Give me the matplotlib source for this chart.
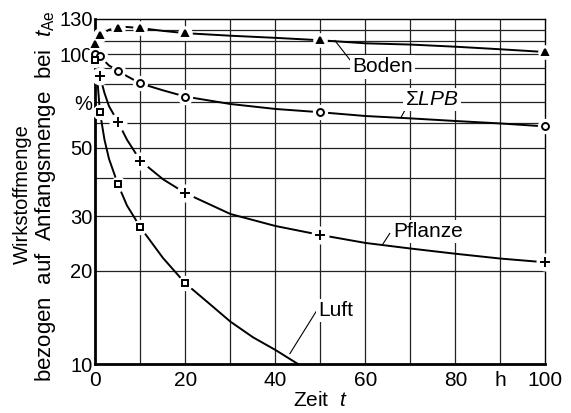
import matplotlib
matplotlib.use("Agg")
import matplotlib.pyplot as plt
from matplotlib.ticker import FixedLocator, NullLocator

plt.rcParams['font.family'] = ['Liberation Sans', 'DejaVu Sans']
plt.rcParams['mathtext.fontset'] = 'custom'
plt.rcParams['mathtext.it'] = 'Liberation Sans:italic'
plt.rcParams['mathtext.rm'] = 'Liberation Sans'

# measured points (markers)
boden_t = [0, 1, 5, 10, 20, 50, 100]
boden = [108, 115, 122, 121.5, 117, 111, 101.7]
lpb_t = [0, 1, 5, 10, 20, 50, 100]
lpb = [100, 98.5, 88.5, 80.5, 73, 65, 58.5]
pflanze_t = [1, 5, 10, 20, 50, 100]
pflanze = [85, 60.5, 45.3, 35.6, 26.1, 21.3]
luft_t = [0, 1, 5, 10, 20]
luft = [96, 65, 38, 27.6, 18.2]

# fitted curves
boden_ct = [0, 1, 3, 5, 7, 10, 15, 20, 30, 40, 50, 60, 70, 80, 90, 100]
boden_c = [108, 115, 120, 122, 122.5, 121.5, 119, 117, 114.8, 113, 111, 108.5, 107.5, 105.8, 103.8, 101.7]
lpb_ct = [0, 1, 3, 5, 7, 10, 15, 20, 30, 40, 50, 60, 70, 80, 90, 100]
lpb_c = [100, 98.5, 92, 88.5, 85, 80.5, 76.5, 73, 69.1, 66.6, 65, 63.2, 62.1, 60.9, 59.8, 58.5]
pflanze_ct = [0, 1, 2, 3, 5, 7, 10, 15, 20, 30, 40, 50, 60, 70, 80, 90, 100]
pflanze_c = [100, 85, 75, 68, 60.5, 53, 45.3, 39.5, 35.6, 30.5, 27.9, 26.1, 24.6, 23.6, 22.7, 21.9, 21.3]
luft_ct = [0, 0.5, 1, 2, 3, 5, 7, 10, 15, 20, 25, 30, 35, 40, 45]
luft_c = [96, 80, 65, 53, 46, 38, 32.5, 27.6, 22, 18.2, 15.8, 13.7, 12.2, 11.1, 10]

xgrid = [10, 20, 30, 40, 50, 60, 70, 80, 90]
ygrid = [20, 30, 40, 50, 60, 70, 80, 90, 100, 110, 120]
xticks = [0, 20, 40, 60, 80, 90, 100]
xlabels = ['0', '20', '40', '60', '80', 'h', '100']
yticks = [10, 20, 30, 50, 70, 100, 130]
ylabels = ['10', '20', '30', '50', '%', '100', '130']

fig = plt.figure(figsize=(5.71, 4.13), dpi=100)
ax = fig.add_axes([0.1672, 0.1186, 0.788, 0.8354])
ax.set_yscale('log')
ax.set_xlim(0, 100)
ax.set_ylim(10, 130)

for x in xgrid:
    ax.axvline(x, color='#222222', lw=0.9, zorder=1)
for y in ygrid:
    ax.axhline(y, color='#222222', lw=0.9, zorder=1)

ax.xaxis.set_major_locator(FixedLocator(xticks))
ax.set_xticklabels(xlabels)
ax.yaxis.set_major_locator(FixedLocator(yticks))
ax.yaxis.set_minor_locator(NullLocator())
ax.set_yticklabels(ylabels)
ax.tick_params(axis='x', length=0, labelsize=15, pad=5)
ax.tick_params(axis='y', length=0, labelsize=14.5, pad=2)

for side in ['left', 'bottom']:
    ax.spines[side].set_linewidth(2.0)
for side in ['top', 'right']:
    ax.spines[side].set_linewidth(1.0)

series = [
    (boden_ct, boden_c, boden_t, boden, '^', 'k', 4.5),
    (lpb_ct, lpb_c, lpb_t, lpb, 'o', 'white', 5),
    (pflanze_ct, pflanze_c, pflanze_t, pflanze, '+', 'k', 7),
    (luft_ct, luft_c, luft_t, luft, 's', 'white', 5),
]
for ct, c, mt, m, mk, fc, ms in series:
    ax.plot(ct, c, color='k', lw=1.4, zorder=3, clip_on=False)
    # white halo leaves a small gap in the curve around each marker
    ax.plot(mt, m, ls='none', marker='o', ms=ms + 5, mfc='white', mec='white',
            zorder=4, clip_on=False)
    ax.plot(mt, m, ls='none', marker=mk, ms=ms, mfc=fc, mec='k', mew=1.4,
            zorder=5, clip_on=False)

# curve labels with leader lines
labels = [
    ('Boden', 57, 91.0, (53.2, 110.8), (56.6, 95.8)),
    (r'$\Sigma LPB$', 68.8, 71.6, (68.0, 62.9), (69.2, 67.7)),
    ('Pflanze', 66.2, 26.7, (63.8, 24.3), (65.4, 26.4)),
    ('Luft', 49.5, 14.9, (43.2, 10.8), (49.2, 14.9)),
]
for txt, tx, ty, p0, p1 in labels:
    ax.plot([p0[0], p1[0]], [p0[1], p1[1]], color='k', lw=0.8, zorder=3)
    ax.text(tx, ty, txt, fontsize=15, ha='left', va='center', zorder=6,
            bbox=dict(facecolor='white', edgecolor='none', pad=1.5))

ax.set_xlabel(r'Zeit  $t$', fontsize=15, labelpad=1)
fig.text(0.040, 0.53, 'Wirkstoffmenge', rotation=90, fontsize=14.5,
         ha='center', va='center')
fig.text(0.079, 0.525, r'bezogen  auf  Anfangsmenge  bei  $t_{\mathrm{Ae}}$',
         rotation=90, fontsize=16, ha='center', va='center')

fig.savefig('out.png', dpi=100)
